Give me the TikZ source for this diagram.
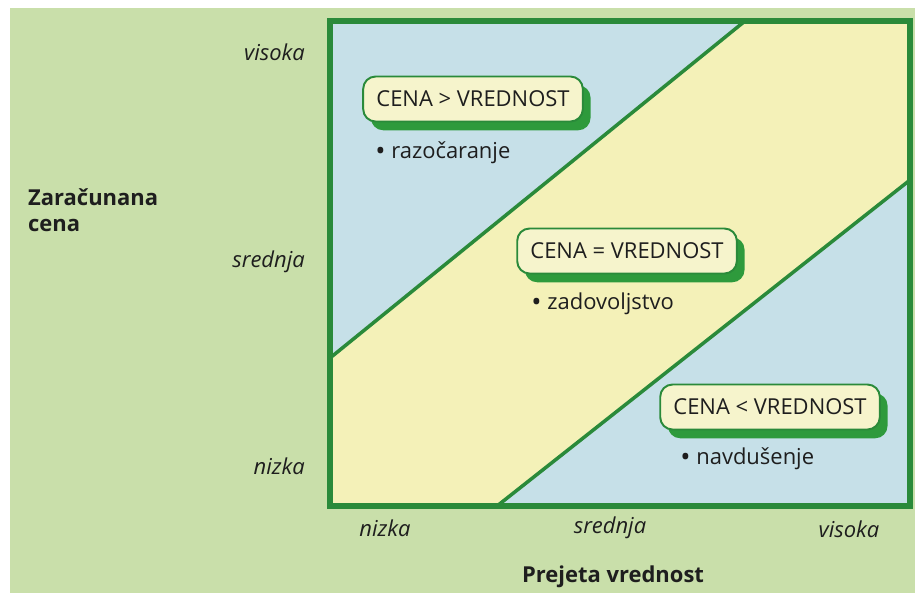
\documentclass[tikz,border=0pt]{standalone}
\usepackage{fontspec}
\setmainfont{Open Sans}
\usepackage{xcolor}
\usepackage{tikz}
\usetikzlibrary{positioning}
\definecolor{bggreen}{HTML}{C9DFAA}
\definecolor{framegreen}{HTML}{2A8A3A}
\definecolor{shadowgreen}{HTML}{2E9A3C}
\definecolor{zoneblue}{HTML}{C6E0E8}
\definecolor{zoneyellow}{HTML}{F4F1B8}
\definecolor{boxfill}{HTML}{F6F4CC}
\definecolor{txtgray}{HTML}{1E1E1E}
\newcommand{\bigdot}{\raisebox{-0.12ex}{\fontsize{15.5}{15}\selectfont •}}

\begin{document}
\begin{tikzpicture}[x=0.02cm, y=-0.02cm,
    every node/.style={font=\fontsize{12.5}{15}\selectfont, text=txtgray},
    pricebox/.style={draw=framegreen, line width=1.1pt, fill=boxfill, rounded corners=7pt,
        inner xsep=7.5pt, minimum height=0.9cm,
        preaction={fill=shadowgreen, transform canvas={xshift=4.4pt, yshift=-5pt}}},
    note/.style={anchor=west, inner sep=0pt},
    axlabel/.style={font=\fontsize{12.5}{15}\selectfont\itshape},
    axtitle/.style={font=\fontsize{12.5}{15}\selectfont\bfseries, align=left}]

    % Background
    \useasboundingbox (0,0) rectangle (915,593);
    \fill[white] (0,0) rectangle (915,593);
    \fill[bggreen] (10,8) rectangle (915,593);

    % Frame corners and zones
    \coordinate (tl) at (330,21);
    \coordinate (br) at (910,506);
    \fill[zoneyellow] (tl) rectangle (br);
    \fill[zoneblue] (330,21) -- (745,21) -- (330,358) -- cycle;
    \fill[zoneblue] (497,506) -- (910,506) -- (910,180) -- cycle;
    \draw[framegreen, line width=2pt] (330,358) -- (745,21);
    \draw[framegreen, line width=2pt] (497,506) -- (910,180);
    \draw[framegreen, line width=3.4pt] (tl) rectangle (br);

    % Price vs value boxes
    \node[pricebox] (gt) at (473,99) {CENA > VREDNOST};
    \node[note] (gtnote) at (375,153) {\bigdot\ razočaranje};
    \node[pricebox] (eq) at (627,251) {CENA = VREDNOST};
    \node[note] (eqnote) at (531,304) {\bigdot\ zadovoljstvo};
    \node[pricebox] (lt) at (770,407) {CENA < VREDNOST};
    \node[note] (ltnote) at (680,459) {\bigdot\ navdušenje};

    % Vertical axis
    \node[axlabel, anchor=east] (yhigh) at (311,52) {visoka};
    \node[axlabel, anchor=east] (ymid) at (311,262) {srednja};
    \node[axlabel, anchor=east] (ylow) at (311,466) {nizka};
    \node[axtitle, anchor=west] (ytitle) at (22,210) {Zaračunana\\cena};

    % Horizontal axis
    \node[axlabel] (xlow) at (385,528) {nizka};
    \node[axlabel] (xmid) at (610,528) {srednja};
    \node[axlabel] (xhigh) at (849,529) {visoka};
    \node[axtitle] (xtitle) at (613,577) {Prejeta vrednost};
\end{tikzpicture}
\end{document}
